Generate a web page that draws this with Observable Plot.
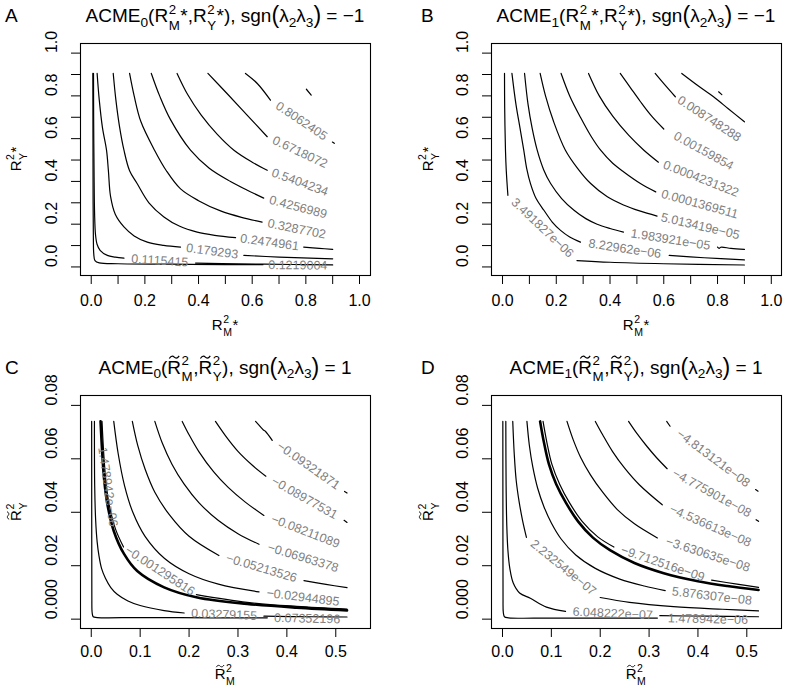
<!DOCTYPE html>
<html><head><meta charset="utf-8">
<script src="https://cdn.jsdelivr.net/npm/d3@7"></script>
<script src="https://cdn.jsdelivr.net/npm/@observablehq/plot@0.6"></script>
<style>
body{margin:0;background:#fff;}
#wrap{position:relative;width:787px;height:689px;overflow:hidden;}
#wrap svg{position:absolute;overflow:visible;}
</style></head><body><div id="wrap"></div>
<script>
const FONT = "'Liberation Sans', Arial, Helvetica, sans-serif";

// ---------- ticks ----------
const xTicksAB = [0,0.1,0.2,0.3,0.4,0.5,0.6,0.7,0.8,0.9,1.0];
const xTickLabelsAB = ["0.0","","0.2","","0.4","","0.6","","0.8","","1.0"];
const yTicksAB = [0,0.1,0.2,0.3,0.4,0.5,0.6,0.7,0.8,0.9,1.0];
const yTickLabelsAB = ["0.0","","0.2","","0.4","","0.6","","0.8","","1.0"];
const xTicksCD = [0,0.1,0.2,0.3,0.4,0.5];
const xTickLabelsCD = ["0.0","0.1","0.2","0.3","0.4","0.5"];
const yTicksCD = [0,0.02,0.04,0.06,0.08];
const yTickLabelsCD = ["0.000","0.02","0.04","0.06","0.08"];

// ---------- panel A: contour segments [x, y] ----------
const curvesA = [
  [[0.006,0.905],[0.0065,0.6],[0.007,0.3],[0.008,0.13],[0.0095,0.06],[0.014,0.03],[0.03,0.019],[0.1,0.015],[0.3,0.013],[0.5,0.011],[0.64,0.0105]],
  [[0.0085,0.905],[0.009,0.7],[0.0105,0.45],[0.0125,0.25],[0.016,0.15],[0.022,0.105],[0.033,0.078],[0.06,0.054],[0.09,0.046],[0.122,0.041]],
  [[0.389,0.018],[0.55,0.0145],[0.75,0.0115],[0.9,0.0095]],
  [[0.022,0.905],[0.03,0.78],[0.042,0.65],[0.057,0.546],[0.064,0.45],[0.072,0.33],[0.09,0.245],[0.122,0.187],[0.16,0.145],[0.209,0.116],[0.27,0.101],[0.333,0.093]],
  [[0.569,0.054],[0.7,0.046],[0.9,0.038]],
  [[0.082,0.905],[0.092,0.78],[0.105,0.66],[0.122,0.546],[0.143,0.45],[0.171,0.39],[0.215,0.3],[0.271,0.234],[0.33,0.19],[0.395,0.163],[0.46,0.148],[0.538,0.137]],
  [[0.792,0.093],[0.85,0.087],[0.9,0.082]],
  [[0.143,0.905],[0.16,0.8],[0.185,0.68],[0.236,0.546],[0.28,0.45],[0.333,0.365],[0.4,0.31],[0.482,0.262],[0.56,0.232],[0.637,0.21]],
  [[0.224,0.905],[0.255,0.8],[0.295,0.69],[0.37,0.546],[0.44,0.462],[0.519,0.4],[0.58,0.36],[0.643,0.322]],
  [[0.32,0.905],[0.36,0.805],[0.41,0.71],[0.47,0.62],[0.532,0.546],[0.6,0.49],[0.656,0.452]],
  [[0.435,0.905],[0.507,0.81],[0.581,0.71],[0.656,0.609]],
  [[0.575,0.905],[0.619,0.858],[0.668,0.78]],
  [[0.899,0.584],[0.906,0.578]],
  [[0.802,0.831],[0.82,0.804]]
];
const labelTextA = ["0.1219004","0.1115415","0.179293","0.2474961","0.3287702","0.4256989","0.5404234","0.6718072","0.8062405"];
const labelGapA = [
  [[0.645,0.009],[0.895,0.006]],
  [[0.122,0.041],[0.389,0.018]],
  [[0.333,0.093],[0.569,0.054]],
  [[0.538,0.137],[0.792,0.093]],
  [[0.637,0.21],[0.895,0.145]],
  [[0.643,0.322],[0.9,0.238]],
  [[0.656,0.452],[0.9,0.34]],
  [[0.656,0.609],[0.9,0.465]],
  [[0.668,0.78],[0.9,0.585]]
];

// ---------- panel B ----------
const curvesB = [
  [[0.0074,0.905],[0.008,0.75],[0.011,0.546],[0.014,0.45],[0.02,0.335]],
  [[0.277,0.03],[0.4,0.022],[0.6,0.015],[0.9,0.009]],
  [[0.035,0.905],[0.05,0.76],[0.065,0.65],[0.079,0.546],[0.09,0.46],[0.104,0.39],[0.125,0.32],[0.154,0.265],[0.185,0.21],[0.216,0.171],[0.25,0.14],[0.29,0.116]],
  [[0.62,0.054],[0.75,0.043],[0.9,0.033]],
  [[0.082,0.905],[0.095,0.76],[0.11,0.65],[0.129,0.546],[0.153,0.455],[0.179,0.39],[0.22,0.32],[0.266,0.265],[0.31,0.226],[0.352,0.2],[0.4,0.18],[0.45,0.163]],
  [[0.8,0.093],[0.806,0.087],[0.812,0.092],[0.85,0.087],[0.9,0.082]],
  [[0.14,0.905],[0.16,0.8],[0.19,0.68],[0.234,0.546],[0.28,0.46],[0.328,0.39],[0.39,0.328],[0.45,0.29],[0.51,0.262],[0.575,0.238]],
  [[0.218,0.905],[0.25,0.8],[0.29,0.7],[0.33,0.61],[0.365,0.546],[0.41,0.485],[0.45,0.445],[0.513,0.39],[0.57,0.351]],
  [[0.32,0.905],[0.36,0.8],[0.41,0.705],[0.47,0.615],[0.526,0.546],[0.58,0.49]],
  [[0.438,0.905],[0.475,0.84],[0.512,0.775],[0.555,0.705],[0.6,0.645]],
  [[0.568,0.905],[0.605,0.85],[0.643,0.796]],
  [[0.667,0.905],[0.725,0.85],[0.785,0.796],[0.84,0.74],[0.9,0.679]],
  [[0.804,0.819],[0.816,0.806]]
];
const labelTextB = ["3.491827e\u221206","8.22962e\u221206","1.983921e\u221205","5.013419e\u221205","0.0001369511","0.0004231322","0.00159854","0.008748288"];
const labelGapB = [
  [[0.02,0.335],[0.277,0.03]],
  [[0.29,0.116],[0.62,0.054]],
  [[0.45,0.163],[0.8,0.093]],
  [[0.575,0.238],[0.897,0.143]],
  [[0.57,0.351],[0.897,0.237]],
  [[0.58,0.49],[0.897,0.335]],
  [[0.6,0.645],[0.897,0.44]],
  [[0.643,0.796],[0.895,0.59]]
];

// ---------- panel C ----------
const curvesC = [
  [[0.0008,0.074],[0.001,0.03],[0.0012,0.008],[0.0018,0.0025],[0.004,0.0009],[0.012,0.0006],[0.1,0.0006],[0.25,0.0005],[0.36,0.0005]],
  [[0.0065,0.074],[0.007,0.05],[0.009,0.037],[0.012,0.029],[0.0157,0.0238],[0.021,0.019],[0.029,0.0153],[0.04,0.0118],[0.053,0.0093],[0.075,0.0068],[0.1,0.0051],[0.149,0.0032],[0.19,0.0023]],
  [[0.353,0.0011],[0.45,0.0009],[0.523,0.0008]],
  [[0.022,0.074],[0.0255,0.062],[0.0298,0.052],[0.0365,0.043],[0.05,0.0335],[0.066,0.027]],
  [[0.215,0.0092],[0.319,0.0063],[0.42,0.0048],[0.523,0.0038]],
  [[0.046,0.074],[0.055,0.062],[0.068,0.05],[0.085,0.04],[0.11,0.031],[0.15,0.0227],[0.2,0.017],[0.26,0.0131],[0.343,0.0102]],
  [[0.084,0.074],[0.095,0.065],[0.11,0.0562],[0.13,0.0475],[0.16,0.039],[0.2,0.031],[0.261,0.0238]],
  [[0.435,0.0144],[0.48,0.013],[0.523,0.0118]],
  [[0.13,0.074],[0.145,0.066],[0.165,0.058],[0.19,0.0505],[0.22,0.0436],[0.26,0.0369],[0.3,0.032],[0.343,0.028]],
  [[0.186,0.074],[0.2,0.069],[0.22,0.0627],[0.25,0.0552],[0.28,0.0493],[0.315,0.0438],[0.353,0.0388]],
  [[0.254,0.074],[0.275,0.0685],[0.3,0.0628],[0.33,0.0575],[0.357,0.0535]],
  [[0.517,0.037],[0.523,0.0362]],
  [[0.336,0.074],[0.347,0.0718],[0.352,0.0708],[0.356,0.0703],[0.37,0.0669]],
  [[0.518,0.0478],[0.523,0.0472]]
];
const thickC = [[0.019,0.074],[0.0225,0.062],[0.0265,0.052],[0.033,0.043],[0.046,0.033],[0.067,0.0244],[0.094,0.018],[0.149,0.0119],[0.217,0.0081],[0.319,0.0057],[0.42,0.0043],[0.523,0.0033]];
const labelTextC = ["0.07352196","0.03279155","1.478942e\u221206","\u22120.001295816","\u22120.02944895","\u22120.05213526","\u22120.06963378","\u22120.08211089","\u22120.08977531","\u22120.09321871"];
const labelGapC = [
  [[0.36,0.0005],[0.523,-0.0001]],
  [[0.19,0.0023],[0.353,0.0011]],
  [[0.022,0.065],[0.046,0.034]],
  [[0.066,0.027],[0.215,0.0092]],
  [[0.343,0.0102],[0.523,0.0061]],
  [[0.261,0.0238],[0.435,0.0144]],
  [[0.343,0.028],[0.523,0.018]],
  [[0.353,0.0388],[0.523,0.0268]],
  [[0.357,0.0535],[0.515,0.0372]],
  [[0.37,0.0669],[0.518,0.048]]
];

// ---------- panel D ----------
const curvesD = [
  [[0.0007,0.074],[0.0009,0.03],[0.0011,0.008],[0.0017,0.0025],[0.004,0.0009],[0.012,0.0005],[0.1,0.0004],[0.317,0.0004]],
  [[0.0068,0.074],[0.0074,0.05],[0.0088,0.035],[0.011,0.026],[0.015,0.019],[0.022,0.0135],[0.035,0.0098],[0.057,0.0078],[0.09,0.0045],[0.129,0.0029]],
  [[0.322,0.0013],[0.42,0.0011],[0.524,0.0009]],
  [[0.021,0.074],[0.024,0.062],[0.028,0.052],[0.034,0.044],[0.041,0.037],[0.049,0.0306]],
  [[0.2,0.0081],[0.26,0.0063],[0.35,0.0047],[0.45,0.0037],[0.524,0.0031]],
  [[0.05,0.074],[0.055,0.065],[0.062,0.057],[0.072,0.049],[0.085,0.042],[0.1,0.036],[0.12,0.03],[0.15,0.024],[0.19,0.019],[0.24,0.015],[0.29,0.0124],[0.333,0.0107]],
  [[0.083,0.074],[0.091,0.066],[0.101,0.058],[0.117,0.0505],[0.137,0.0436],[0.163,0.0366],[0.195,0.0308],[0.228,0.027]],
  [[0.428,0.0146],[0.48,0.0131],[0.524,0.0119]],
  [[0.132,0.074],[0.145,0.067],[0.16,0.0605],[0.18,0.054],[0.205,0.0475],[0.235,0.041],[0.27,0.0357],[0.317,0.0304]],
  [[0.19,0.074],[0.205,0.069],[0.225,0.0628],[0.25,0.0565],[0.28,0.0503],[0.327,0.0428]],
  [[0.258,0.074],[0.275,0.0695],[0.295,0.0648],[0.315,0.0605],[0.337,0.0563]],
  [[0.519,0.0372],[0.524,0.0366]],
  [[0.336,0.074],[0.343,0.0722]],
  [[0.518,0.0485],[0.523,0.0479]]
];
const thickD = [[0.077,0.074],[0.085,0.066],[0.095,0.058],[0.11,0.0505],[0.13,0.0435],[0.155,0.0365],[0.185,0.0305],[0.22,0.0258],[0.27,0.021],[0.33,0.0172],[0.4,0.0142],[0.46,0.0124],[0.524,0.0109]];
const labelTextD = ["1.478942e\u221206","6.048222e\u221207","2.232549e\u221207","5.876307e\u221208","\u22129.712516e\u221209","\u22123.630635e\u221208","\u22124.536613e\u221208","\u22124.775901e\u221208","\u22124.813121e\u221208"];
const labelGapD = [
  [[0.317,0.0004],[0.524,-0.0004]],
  [[0.129,0.0029],[0.322,0.0013]],
  [[0.049,0.0306],[0.2,0.0081]],
  [[0.333,0.0107],[0.524,0.0066]],
  [[0.228,0.027],[0.428,0.0146]],
  [[0.317,0.0304],[0.524,0.018]],
  [[0.327,0.0428],[0.524,0.027]],
  [[0.337,0.0563],[0.52,0.038]],
  [[0.343,0.0722],[0.52,0.0482]]
];

// ---------- text pieces ----------
const titleA = [{t:"ACME"},{sub:"0"},{t:"(R"},{stack:["2","M"]},{t:"*,R"},{stack:["2","Y"]},{t:"*), sgn"},{big:"("},{t:"\u03bb"},{sub:"2"},{t:"\u03bb"},{sub:"3"},{big:")"},{t:" = \u22121"}];
const titleB = [{t:"ACME"},{sub:"1"},{t:"(R"},{stack:["2","M"]},{t:"*,R"},{stack:["2","Y"]},{t:"*), sgn"},{big:"("},{t:"\u03bb"},{sub:"2"},{t:"\u03bb"},{sub:"3"},{big:")"},{t:" = \u22121"}];
const titleC = [{t:"ACME"},{sub:"0"},{t:"("},{tilde:"R"},{stack:["2","M"]},{t:","},{tilde:"R"},{stack:["2","Y"]},{t:"), sgn"},{big:"("},{t:"\u03bb"},{sub:"2"},{t:"\u03bb"},{sub:"3"},{big:")"},{t:" = 1"}];
const titleD = [{t:"ACME"},{sub:"1"},{t:"("},{tilde:"R"},{stack:["2","M"]},{t:","},{tilde:"R"},{stack:["2","Y"]},{t:"), sgn"},{big:"("},{t:"\u03bb"},{sub:"2"},{t:"\u03bb"},{sub:"3"},{big:")"},{t:" = 1"}];
const xLabAB = [{t:"R"},{stack:["2","M"]},{t:"*"}];
const yLabAB = [{t:"R"},{stack:["2","Y"]},{t:"*"}];
const xLabCD = [{tilde:"R"},{stack:["2","M"]}];
const yLabCD = [{tilde:"R"},{stack:["2","Y"]}];

// ---------- layout ----------
const panels = [
  {letter:"A", left:0, top:0, w:393, h:340, m:[80,23,43,65], xd:[-0.04,1.041], yd:[-0.04,1.045],
   xTicks:xTicksAB, xTickLabels:xTickLabelsAB, yTicks:yTicksAB, yTickLabels:yTickLabelsAB,
   curves:curvesA, thick:[], labelText:labelTextA, labelGap:labelGapA, title:titleA, xLab:xLabAB, yLab:yLabAB,
   xdy:25.5, letterX:5, titleY:22, yLabX:21, xLabOff:55},
  {letter:"B", left:393, top:0, w:394, h:340, m:[98,6,43,65], xd:[-0.041,1.038], yd:[-0.04,1.045],
   xTicks:xTicksAB, xTickLabels:xTickLabelsAB, yTicks:yTicksAB, yTickLabels:yTickLabelsAB,
   curves:curvesB, thick:[], labelText:labelTextB, labelGap:labelGapB, title:titleB, xLab:xLabAB, yLab:yLabAB,
   xdy:25.5, letterX:28, titleY:22, yLabX:40, xLabOff:55},
  {letter:"C", left:0, top:340, w:393, h:349, m:[80,23,55,61], xd:[-0.022,0.571], yd:[-0.0035,0.0837],
   xTicks:xTicksCD, xTickLabels:xTickLabelsCD, yTicks:yTicksCD, yTickLabels:yTickLabelsCD,
   curves:curvesC, thick:thickC, labelText:labelTextC, labelGap:labelGapC, title:titleC, xLab:xLabCD, yLab:yLabCD,
   xdy:23.5, letterX:5, titleY:33.5, yLabX:21, xLabOff:51},
  {letter:"D", left:393, top:340, w:394, h:349, m:[98,6,55,61], xd:[-0.0225,0.571], yd:[-0.0035,0.0837],
   xTicks:xTicksCD, xTickLabels:xTickLabelsCD, yTicks:yTicksCD, yTickLabels:yTickLabelsCD,
   curves:curvesD, thick:thickD, labelText:labelTextD, labelGap:labelGapD, title:titleD, xLab:xLabCD, yLab:yLabCD,
   xdy:23.5, letterX:28, titleY:33.5, yLabX:40, xLabOff:51}
];

function addRich(sel, parts, x, y, size, rot) {
  const outer = sel.append("g").attr("transform", `translate(${x},${y}) rotate(${rot||0})`);
  const g = outer.append("g").attr("font-family", FONT).attr("fill", "#000")
    .attr("text-anchor", "start").style("white-space", "pre");
  let cx = 0;
  const put = (t, s, px, py) => {
    const el = g.append("text").attr("x", px).attr("y", py).attr("font-size", s)
      .attr("text-anchor", "start").text(t);
    return el.node().getComputedTextLength();
  };
  for (const p of parts) {
    if (p.stack) {
      const w1 = put(p.stack[0], size * 0.7, cx + 0.5, -size * 0.44);
      const w2 = put(p.stack[1], size * 0.7, cx + 0.5, size * 0.40);
      cx += Math.max(w1, w2) + 1;
    } else if (p.sub !== undefined) {
      cx += put(p.sub, size * 0.72, cx, size * 0.24);
    } else if (p.big !== undefined) {
      cx += put(p.big, size * 1.22, cx, size * 0.07);
    } else if (p.tilde !== undefined) {
      const w = put(p.tilde, size, cx, 0);
      // tilde accent drawn as a small wave above the letter
      const mx = cx + w / 2, ty = -size * 0.86, hw = size * 0.26, a = size * 0.07;
      g.append("path")
        .attr("d", `M${mx - hw},${ty + a} C${mx - hw * 0.55},${ty - a * 1.6} ${mx - hw * 0.15},${ty - a * 0.6} ${mx},${ty}` +
                   ` S${mx + hw * 0.55},${ty + a * 1.6} ${mx + hw},${ty - a}`)
        .attr("fill", "none").attr("stroke", "#000").attr("stroke-width", size * 0.065);
      cx += w;
    } else {
      cx += put(p.t, size, cx, 0);
    }
  }
  g.attr("transform", `translate(${-cx / 2},0)`);
}

const wrap = document.getElementById("wrap");
for (const p of panels) {
  const [ml, mr, mt, mb] = p.m;
  const kx = (p.w - ml - mr) / (p.xd[1] - p.xd[0]);
  const ky = (p.h - mt - mb) / (p.yd[1] - p.yd[0]);
  const rows = p.curves.flatMap((seg, i) => seg.map(([x, y]) => ({x, y, id: i})));
  const thickRows = p.thick.map(([x, y]) => ({x, y}));
  const labs = p.labelText.map((t, i) => {
    const [[x1, y1], [x2, y2]] = p.labelGap[i];
    return {t, x: (x1 + x2) / 2, y: (y1 + y2) / 2,
      a: -Math.atan2((y2 - y1) * ky, (x2 - x1) * kx) * 180 / Math.PI};
  });
  const svg = Plot.plot({
    width: p.w, height: p.h,
    marginLeft: ml, marginRight: mr, marginTop: mt, marginBottom: mb,
    style: {fontFamily: FONT, background: "transparent", overflow: "visible"},
    x: {domain: p.xd, label: null},
    y: {domain: p.yd, label: null},
    marks: [
      Plot.line(rows, {x: "x", y: "y", z: "id", stroke: "#000", strokeWidth: 1.2, curve: "catmull-rom"}),
      Plot.line(thickRows, {x: "x", y: "y", stroke: "#000", strokeWidth: 2.6, curve: "catmull-rom"}),
      Plot.text(labs, {x: "x", y: "y", text: "t", rotate: "a", fill: "#808080", fontSize: 12.5}),
      Plot.frame({stroke: "#000", strokeWidth: 1.1}),
      Plot.axisX({ticks: p.xTicks, tickSize: 9, tickFormat: () => ""}),
      Plot.axisY({ticks: p.yTicks, tickSize: 9, tickFormat: () => ""}),
      Plot.text(p.xTicks, {x: d => d, text: (d, i) => p.xTickLabels[i], frameAnchor: "bottom", dy: p.xdy,
        fontSize: 16, lineAnchor: "middle", fill: "#000"}),
      Plot.text(p.yTicks, {y: d => d, text: (d, i) => p.yTickLabels[i], frameAnchor: "left", dx: -28.5,
        rotate: -90, fontSize: 16, lineAnchor: "middle", fill: "#000"})
    ]
  });
  svg.style.left = p.left + "px";
  svg.style.top = p.top + "px";
  wrap.appendChild(svg);
  const sel = d3.select(svg);
  const cxPlot = ml + (p.w - ml - mr) / 2;
  const cyPlot = mt + (p.h - mt - mb) / 2;
  sel.append("text").attr("x", p.letterX).attr("y", p.titleY).attr("font-family", FONT)
    .attr("text-anchor", "start").attr("font-size", 19).attr("fill", "#000").text(p.letter);
  addRich(sel, p.title, cxPlot, p.titleY, 19, 0);
  addRich(sel, p.xLab, cxPlot, p.h - mb + p.xLabOff, 15, 0);
  addRich(sel, p.yLab, p.yLabX, cyPlot, 15, -90);
}
</script></body></html>
